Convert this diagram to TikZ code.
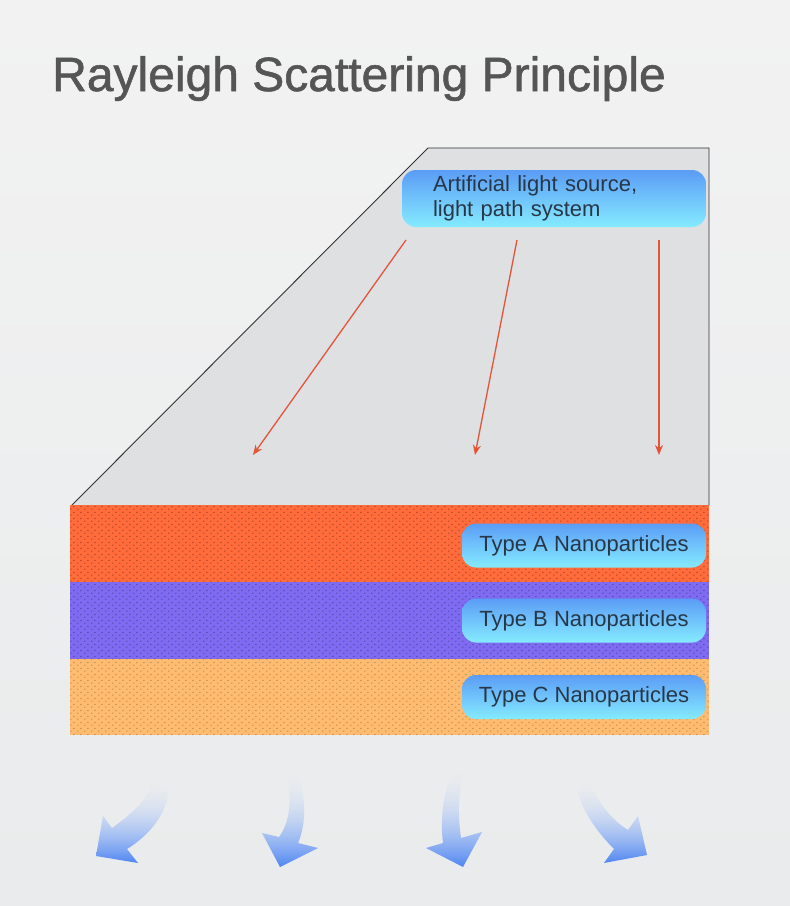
\documentclass[tikz,border=0pt]{standalone}
\usepackage{fontspec}
\setmainfont{Liberation Sans}
\newfontfamily\titlefont[FakeBold=1.2]{Liberation Sans}
\usetikzlibrary{arrows.meta, patterns, fadings, positioning}

\definecolor{bgtop}{HTML}{F2F2F2}
\definecolor{bgbottom}{HTML}{E9EBEC}
\definecolor{panelgray}{HTML}{DFE0E2}
\definecolor{layerA}{HTML}{FF6B3B}
\definecolor{layerB}{HTML}{7E6BF1}
\definecolor{layerC}{HTML}{FFBB70}
\definecolor{tagtop}{HTML}{5B9CF6}
\definecolor{tagbottom}{HTML}{85EBFF}
\definecolor{tagtext}{HTML}{273747}
\definecolor{raycolor}{HTML}{E2553A}
\definecolor{flowblue}{HTML}{4F86F2}
\definecolor{titlegray}{HTML}{555555}

% grain texture of the layers
\pgfdeclarepatternformonly{grains}{\pgfpointorigin}{\pgfpoint{7pt}{6pt}}{\pgfpoint{7pt}{6pt}}{
  \pgfpathcircle{\pgfpoint{1pt}{1pt}}{0.8pt}
  \pgfpathcircle{\pgfpoint{4.5pt}{4pt}}{0.8pt}
  \pgfusepath{fill}
}

\tikzfading[name=tailfade, top color=transparent!100, middle color=transparent!35, bottom color=transparent!0]

\tikzset{
  tag/.style={rounded corners=14pt, top color=tagtop, bottom color=tagbottom,
    text=tagtext, font=\fontsize{22}{25}\selectfont, inner sep=0pt,
    minimum width=244, minimum height=44},
  ray/.style={raycolor, line width=1.3pt, -{Stealth[length=10pt,width=8pt]}},
  flow/.style={top color=flowblue!20, bottom color=flowblue, path fading=tailfade},
}

\begin{document}
\begin{tikzpicture}[x=1pt, y=-1pt]
    % Background
    \shade[top color=bgtop, bottom color=bgbottom] (0,0) rectangle (790,906);
    \useasboundingbox (0,0) rectangle (790,906);

    % Title
    \node[anchor=base west, text=titlegray, font=\titlefont\fontsize{48}{48}\selectfont, inner sep=0pt]
        (title) at (52,91) {Rayleigh Scattering Principle};

    % Light path panel
    \filldraw[fill=panelgray, draw=black!80, line width=0.9pt]
        (72,505) -- (428,148) -- (709,148) -- (709,505);

    % Layers
    \fill[layerA, postaction={pattern=grains, pattern color=layerA!60!black}] (70,505) rectangle (709,582);
    \fill[layerB, postaction={pattern=grains, pattern color=layerB!60!black}] (70,582) rectangle (709,659);
    \fill[layerC, postaction={pattern=grains, pattern color=layerC!70!black}] (70,659) rectangle (709,735);

    % Labels
    \node[tag, minimum width=304, minimum height=57, text width=242, align=left]
        (source) at (554,198.5) {Artificial light source,\\light path system};
    \node[tag] (typeA) at (584,545.5) {Type A Nanoparticles};
    \node[tag] (typeB) at (584,620.5) {Type B Nanoparticles};
    \node[tag] (typeC) at (584,697) {Type C Nanoparticles};

    % Incoming light
    \coordinate (rayAstart) at (406,240);
    \coordinate (rayBstart) at (517,240);
    \coordinate (rayCstart) at (659,240);
    \coordinate (rayAend) at (253,455);
    \coordinate (rayBend) at (475,455);
    \coordinate (rayCend) at (659,455);
    \draw[ray] (rayAstart) -- (rayAend);
    \draw[ray] (rayBstart) -- (rayBend);
    \draw[ray] (rayCstart) -- (rayCend);

    % Scattered light
    \path[flow] (152,783) .. controls (148,800) and (130,815) .. (112,828) -- (103,816) -- (96,856)
        -- (138,863) -- (127,849) .. controls (150,835) and (168,812) .. (168,790) -- cycle;
    \path[flow] (287,777) .. controls (292,800) and (290,822) .. (279,837) -- (262,833) -- (280,867)
        -- (318,848) -- (298,843) .. controls (306,825) and (306,800) .. (299,776) -- cycle;
    \path[flow] (452,772) .. controls (443,795) and (440,820) .. (443,843) -- (426,848) -- (463,867)
        -- (482,832) -- (461,838) .. controls (458,818) and (458,795) .. (463,773) -- cycle;
    \path[flow] (588,782) .. controls (600,805) and (612,820) .. (628,830) -- (638,816) -- (647,855)
        -- (604,863) -- (614,849) .. controls (600,835) and (584,815) .. (577,790) -- cycle;
\end{tikzpicture}
\end{document}
